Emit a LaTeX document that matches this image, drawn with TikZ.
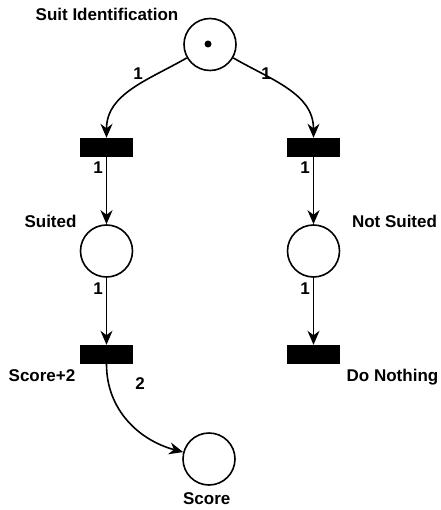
\documentclass[tikz,border=0pt]{standalone}
\usepackage{fontspec}
\setmainfont{Liberation Sans}
\usetikzlibrary{arrows.meta}

\tikzset{
  place/.style={circle, draw, line width=1.6pt, minimum size=52pt, inner sep=0pt},
  token/.style={circle, fill, minimum size=7pt, inner sep=0pt},
  trans/.style={rectangle, fill=black, minimum width=53pt, minimum height=19pt, inner sep=0pt},
  arc/.style={line width=1.6pt, -{Stealth[length=14pt, width=12pt, inset=4.5pt]}},
  lbl/.style={font=\bfseries\fontsize{17}{20}\selectfont, anchor=base, inner sep=0pt}
}

\begin{document}
\begin{tikzpicture}[x=1pt, y=1pt]

% Frame
\useasboundingbox (0,0) rectangle (440,-510);

% Places
\node[place] (suitid) at (210,-44.5) {};
\node[token] (tok) at (208,-44) {};
\node[place] (suited) at (106.5,-251) {};
\node[place] (notsuited) at (313.5,-251) {};
\node[place] (score) at (209,-459) {};

% Transitions
\node[trans] (t1) at (106.5,-147.5) {};
\node[trans] (t2) at (313.5,-147.5) {};
\node[trans] (t3) at (106.5,-354.5) {};
\node[trans] (t4) at (313.5,-354.5) {};

% Arcs
\draw[arc] (suitid) to[out=-150, in=90] (t1);
\draw[arc] (suitid) to[out=-30, in=90] (t2);
\draw[arc] (t1) -- (suited);
\draw[arc] (t2) -- (notsuited);
\draw[arc] (suited) -- (t3);
\draw[arc] (notsuited) -- (t4);
\draw[arc] (t3) to[out=-90, in=165] (score);

% Names
\node[lbl] (lsuitid) at (107,-20.5) {Suit Identification};
\node[lbl] (lsuited) at (50.5,-227.3) {Suited};
\node[lbl] (lnotsuited) at (394.5,-227.3) {Not Suited};
\node[lbl] (lt3) at (42,-381.7) {Score+2};
\node[lbl] (lt4) at (392.5,-381.7) {Do Nothing};
\node[lbl] (lscore) at (206.7,-504) {Score};

% Weights
\node[lbl] (w1) at (138,-80) {1};
\node[lbl] (w2) at (266,-80) {1};
\node[lbl] (w3) at (98,-173.5) {1};
\node[lbl] (w4) at (305,-173.5) {1};
\node[lbl] (w5) at (98,-294) {1};
\node[lbl] (w6) at (305,-294) {1};
\node[lbl] (w7) at (140,-389) {2};

\end{tikzpicture}
\end{document}
